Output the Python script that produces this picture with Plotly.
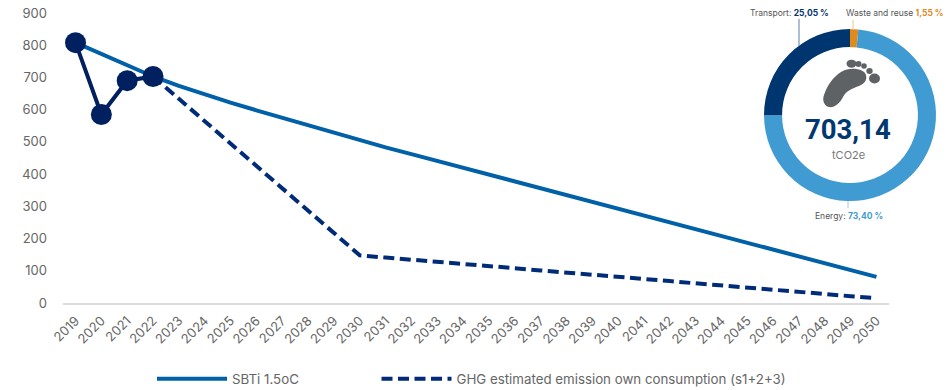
import plotly.graph_objects as go

WIDTH, HEIGHT = 948, 390
PLOT_L, PLOT_R, PLOT_T, PLOT_B = 62.6, 889.4, 13, 303

years = [str(y) for y in range(2019, 2051)]
sbti_values = [808, 772, 737, 703, 674, 647, 622, 598, 575, 550, 526, 504,
               483, 462, 441, 420, 399, 378, 356, 335, 314, 293, 272, 251,
               230, 209, 188, 166, 145, 124, 103, 81]
estimated_years = years[3:]
estimated_values = [703, 634, 564, 495, 425, 356, 287, 217, 148,
                    141, 135, 128, 121, 115, 108, 101, 95, 88, 81, 75,
                    68, 61, 55, 48, 41, 35, 28, 21, 15]
actual_years = years[:4]
actual_values = [808, 585, 690, 703]
y_ticks = [0, 100, 200, 300, 400, 500, 600, 700, 800, 900]

footprint_labels = ["Waste and reuse", "Energy", "Transport"]
footprint_shares = [1.55, 73.40, 25.05]
footprint_colors = ["#E08A1E", "#3F9BD1", "#003670"]

SBTI_BLUE = "#0060A8"
NAVY = "#002060"
DASH_NAVY = "#002B78"
TEXT_GREY = "#666666"
ICON_GREY = "#5F6264"
FONT = "Inter"


# Page pixels to paper fractions; margins are zero so paper is the whole page
def px(x):
    return x / WIDTH


def py(y):
    return 1 - y / HEIGHT


fig = go.Figure()
fig.add_trace(go.Scatter(x=years, y=sbti_values, name="SBTi 1.5oC", mode="lines",
                         line=dict(color=SBTI_BLUE, width=4), legend="legend"))
fig.add_trace(go.Scatter(x=estimated_years, y=estimated_values,
                         name="GHG estimated emission own consumption (s1+2+3)",
                         mode="lines", legend="legend2",
                         line=dict(color=DASH_NAVY, width=4, dash="11px,5.5px")))
fig.add_trace(go.Scatter(x=actual_years, y=actual_values, name="Actual",
                         mode="lines+markers", showlegend=False,
                         line=dict(color=NAVY, width=4),
                         marker=dict(color=NAVY, size=21)))

# Ring sits on the pixel box 764..936 x 29..201
fig.add_trace(go.Pie(labels=footprint_labels, values=footprint_shares,
                     marker=dict(colors=footprint_colors, line=dict(width=0)),
                     hole=0.79, sort=False, direction="clockwise", rotation=0,
                     textinfo="none", showlegend=False,
                     domain=dict(x=[px(764), px(936)], y=[py(201), py(29)])))


def label(x, y, text, size, color=TEXT_GREY, family=FONT, anchor="center"):
    return dict(x=px(x), y=py(y), xref="paper", yref="paper", text=text,
                showarrow=False, xanchor=anchor, yanchor="middle",
                font=dict(size=size, color=color, family=family))


def leader(x, y0, y1, color):
    return dict(type="line", xref="paper", yref="paper",
                x0=px(x), x1=px(x), y0=py(y0), y1=py(y1),
                line=dict(color=color, width=1))


def ellipse(cx, cy, rx, ry, color=ICON_GREY):
    return dict(type="circle", xref="paper", yref="paper",
                x0=px(cx - rx), x1=px(cx + rx), y0=py(cy + ry), y1=py(cy - ry),
                fillcolor=color, line=dict(width=0))


def foot_sole(color=ICON_GREY):
    # Sole outline, expressed around the icon's top-left corner
    ox, oy = 823, 60
    pts = [("M", (6, 47)),
           ("C", (1, 46), (-1, 40), (1, 35)),
           ("C", (4, 26), (10, 17), (18, 12)),
           ("C", (26, 7), (38, 8), (42, 13)),
           ("C", (45, 18), (43, 23), (36, 26)),
           ("C", (28, 29), (23, 31), (20, 37)),
           ("C", (17, 43), (12, 48), (6, 47))]
    parts = []
    for cmd, *coords in pts:
        mapped = " ".join(f"{px(ox + a):.5f},{py(oy + b):.5f}" for a, b in coords)
        parts.append(cmd + mapped)
    return dict(type="path", xref="paper", yref="paper",
                path=" ".join(parts) + " Z", fillcolor=color, line=dict(width=0))


annotations = [
    label(789.5, 13, '<span style="color:#555">Transport:</span> <b><span style="color:#003670">25,05 %</span></b>', 8.5),
    label(894.5, 13, '<span style="color:#555">Waste and reuse</span> <b><span style="color:#E08A1E">1,55 %</span></b>', 8.5),
    label(848.5, 216, '<span style="color:#555">Energy:</span> <b><span style="color:#3F9BD1">73,40 %</span></b>', 8.5),
    label(848, 130, "<b>703,14</b>", 27.5, color="#00386F", family="Roboto"),
    label(848, 155, "tCO2e", 11, color="#777777"),
]

shapes = [
    leader(799, 19, 46, "#5B7FA3"),
    leader(853, 20, 30, "#F0C48E"),
    leader(848, 201, 208, "#9CCBE6"),
    foot_sole(),
    ellipse(851.5, 63.7, 5, 4),
    ellipse(858.5, 64, 3, 3),
    ellipse(864, 66, 2.8, 2.8),
    ellipse(869.5, 71, 3.2, 3),
    ellipse(874.5, 78.5, 5.5, 5),
]

fig.update_layout(
    width=WIDTH, height=HEIGHT,
    margin=dict(l=0, r=0, t=0, b=0, autoexpand=False),
    paper_bgcolor="white", plot_bgcolor="white",
    font=dict(family=FONT, color=TEXT_GREY, size=13),
    xaxis=dict(type="category", categoryorder="array", categoryarray=years,
               domain=[px(PLOT_L), px(PLOT_R)],
               range=[-0.5, 31.5], tickangle=-45, showgrid=False,
               ticks="outside", ticklen=3, tickcolor="rgba(0,0,0,0)",
               showline=True, linecolor="#DDDDDD", linewidth=2, zeroline=False,
               tickfont=dict(size=13, color=TEXT_GREY), automargin=False),
    yaxis=dict(range=[0, 900], tickvals=y_ticks, showgrid=False, showline=False,
               domain=[py(PLOT_B), py(PLOT_T)],
               zeroline=False, ticks="outside", ticklen=12, tickcolor="rgba(0,0,0,0)",
               tickfont=dict(size=13, color=TEXT_GREY), automargin=False),
    legend=dict(xanchor="left", yanchor="middle", x=px(152), y=py(379), itemwidth=70,
                font=dict(size=13.3, color=TEXT_GREY), bgcolor="rgba(0,0,0,0)"),
    legend2=dict(xanchor="left", yanchor="middle", x=px(376.5), y=py(379), itemwidth=70,
                 font=dict(size=13.3, color=TEXT_GREY), bgcolor="rgba(0,0,0,0)"),
    annotations=annotations, shapes=shapes, showlegend=True,
)

fig.write_html("out.html")
